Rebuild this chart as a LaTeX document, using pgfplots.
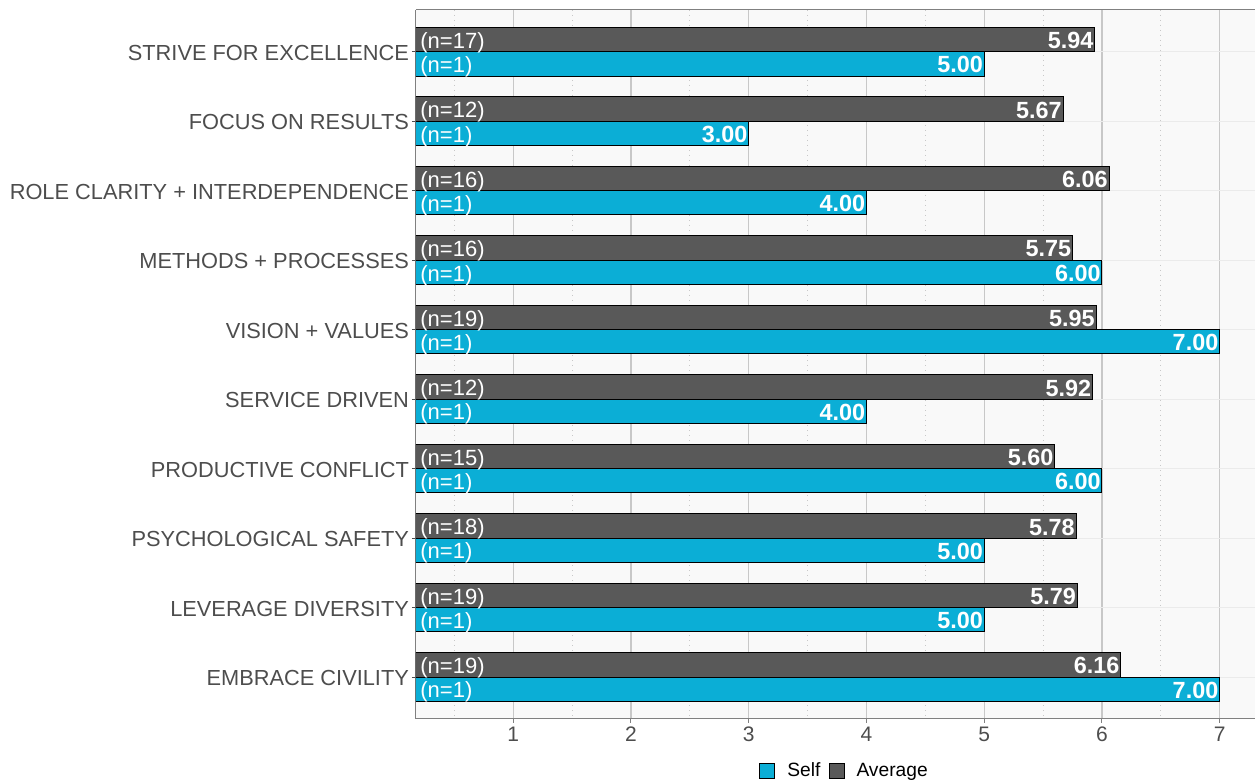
\documentclass[border=0pt]{standalone}
\usepackage{pgfplots}
\pgfplotsset{compat=1.18}
\usepackage{pgfplotstable}
\usepackage{fontspec}
\setmainfont{Liberation Sans}
\definecolor{cy}{HTML}{0BAED6}
\definecolor{dg}{HTML}{595959}
\definecolor{tx}{HTML}{4D4D4D}
\definecolor{bgc}{HTML}{F9F9F9}
\definecolor{gmaj}{HTML}{C8C8C8}
\definecolor{gmin}{HTML}{C8C8C8}
\definecolor{gy}{HTML}{EBEBEB}

\pgfplotstableread{
y ya ys xl avg self navg nself
0 -0.175 0.175 0.174 5.94 5.00 (n=17) (n=1)
1 0.825 1.175 0.174 5.67 3.00 (n=12) (n=1)
2 1.825 2.175 0.174 6.06 4.00 (n=16) (n=1)
3 2.825 3.175 0.174 5.75 6.00 (n=16) (n=1)
4 3.825 4.175 0.174 5.95 7.00 (n=19) (n=1)
5 4.825 5.175 0.174 5.92 4.00 (n=12) (n=1)
6 5.825 6.175 0.174 5.60 6.00 (n=15) (n=1)
7 6.825 7.175 0.174 5.78 5.00 (n=18) (n=1)
8 7.825 8.175 0.174 5.79 5.00 (n=19) (n=1)
9 8.825 9.175 0.174 6.16 7.00 (n=19) (n=1)
}\data

\pgfplotsset{
  vallabel/.style={forget plot, draw=none, mark=none, point meta=x, nodes near coords,
    /pgf/number format/.cd, fixed, fixed zerofill, precision=2, assume math mode=true, /pgfplots/.cd,
    every node near coord/.style={anchor=east, text=white, font=\bfseries\fontsize{11.7}{12}\selectfont, inner sep=0.5pt, yshift=-0.5pt}},
  nlabel/.style={forget plot, draw=none, mark=none, point meta=explicit symbolic, nodes near coords,
    every node near coord/.style={anchor=west, text=white, font=\fontsize{11}{12}\selectfont, inner sep=2pt, yshift=-1.5pt}},
}

\begin{document}
\begin{tikzpicture}
\begin{axis}[
  scale only axis,
  width=419.5pt, height=354.4pt,
  xmin=0.174, xmax=7.3,
  ymin=-0.6, ymax=9.6,
  y dir=reverse,
  axis x line*=box, axis y line*=left,
  xtick pos=left,
  axis line style={color=gray, line width=0.5pt},
  axis background/.style={fill=bgc},
  xtick={1,2,3,4,5,6,7},
  minor xtick={0.5,1.5,2.5,3.5,4.5,5.5,6.5},
  xmajorgrids, xminorgrids,
  major grid style={color=gmaj, line width=0.6pt},
  minor grid style={color=gmin, line width=0.5pt, dotted},
  xtick style={color=gray, line width=0.5pt},
  minor x tick style={draw=none},
  ytick={0,...,9},
  yticklabels={STRIVE FOR EXCELLENCE,FOCUS ON RESULTS,ROLE CLARITY + INTERDEPENDENCE,METHODS + PROCESSES,VISION + VALUES,SERVICE DRIVEN,PRODUCTIVE CONFLICT,PSYCHOLOGICAL SAFETY,LEVERAGE DIVERSITY,EMBRACE CIVILITY},
  ytick style={color=tx, line width=0.5pt},
  tick align=outside,
  major tick length=2pt,
  extra y ticks={0,...,9},
  extra y tick labels={},
  extra y tick style={grid=major, major grid style={color=gy, line width=0.5pt, solid}, major tick length=0pt},
  y tick label style={font=\fontsize{10.9}{12}\selectfont, text=tx, xshift=2pt, yshift=-0.5pt},
  x tick label style={font=\fontsize{10.5}{12}\selectfont, text=tx, yshift=1.5pt},
  /pgf/number format/assume math mode=true,
  legend style={at={(0.512,0)}, anchor=center, yshift=-26.2pt, draw=none, fill=none,
    legend columns=2, font=\fontsize{9.6}{11}\selectfont,
    /tikz/every odd column/.append style={column sep=4pt},
    /tikz/every even column/.append style={column sep=2pt}},
]
\addplot[xbar, bar width=0.35, bar shift=0.175, fill=cy, draw=black, line width=0.5pt,
  legend image code/.code={\draw[fill=cy, draw=black, line width=0.5pt] (0pt,-3.75pt) rectangle (7.5pt,3.75pt);}]
  table[x=self, y=y]{\data};
\addlegendentry{Self}
\addplot[xbar, bar width=0.35, bar shift=-0.175, fill=dg, draw=black, line width=0.5pt,
  legend image code/.code={\draw[fill=dg, draw=black, line width=0.5pt] (0pt,-3.75pt) rectangle (7.5pt,3.75pt);}]
  table[x=avg, y=y]{\data};
\addlegendentry{Average}
\addplot[vallabel] table[x=self, y=ys]{\data};
\addplot[vallabel] table[x=avg, y=ya]{\data};
\addplot[nlabel] table[x=xl, y=ya, meta=navg]{\data};
\addplot[nlabel] table[x=xl, y=ys, meta=nself]{\data};
\coordinate (bl) at (rel axis cs:0,0);
\coordinate (tr) at (rel axis cs:1,1);
\end{axis}
\pgfresetboundingbox
\path[use as bounding box] ([xshift=-208pt,yshift=-30.65pt]bl) rectangle ([yshift=5pt]tr);
\end{tikzpicture}
\end{document}
